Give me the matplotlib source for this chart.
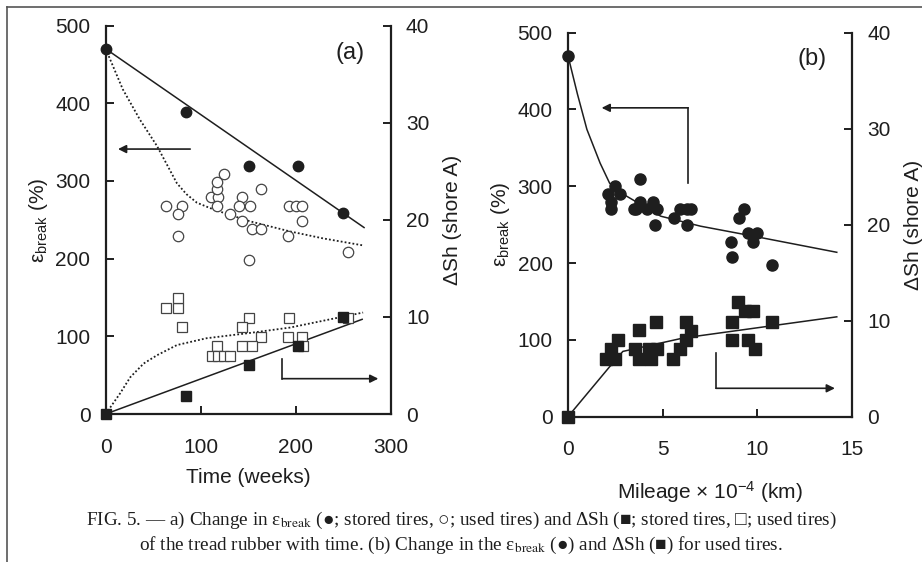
import numpy as np
import matplotlib.pyplot as plt
from matplotlib.lines import Line2D

plt.rcParams['font.family'] = ['Liberation Sans', 'DejaVu Sans']
plt.rcParams['mathtext.fontset'] = 'custom'
plt.rcParams['mathtext.rm'] = 'Liberation Sans'
plt.rcParams['mathtext.it'] = 'Liberation Sans:italic'

INK = '#1e1e1e'

# ---- (a) storage time, weeks ----
stored_t = [0, 85, 151, 202, 250]
stored_eps = [470, 389, 319, 319, 259]
stored_fit_t = [0, 272]
stored_fit_eps = [470, 240]

used_t = [64, 80, 76, 76, 111, 118, 117, 117, 125, 117, 144, 164, 140, 152,
          131, 144, 154, 164, 151, 193, 200, 207, 192, 207, 255]
used_eps = [268, 268, 258, 229, 279, 279, 289, 299, 309, 268, 279, 289, 268, 268,
            258, 248, 238, 238, 198, 268, 268, 268, 229, 248, 208]
used_fit_t = [0, 18, 36, 54, 75, 85, 96, 110, 124, 152, 194, 229, 271]
used_fit_eps = [470, 418, 379, 345, 297, 283, 272, 265, 259, 248, 235, 226, 217]

stored_sh = [0, 1.9, 5.0, 7.0, 10.0]
stored_sh_fit_t = [0, 270]
stored_sh_fit = [0, 9.75]

used_sq_t = [64, 76, 76, 80, 151, 144, 193, 163, 192, 207, 117, 143, 154, 208,
             112, 118, 125, 131, 255]
used_sq_sh = [10.9, 10.9, 11.9, 9.0, 9.9, 9.0, 9.9, 7.9, 7.9, 7.9, 7.0, 7.0, 7.0, 7.0,
              6.0, 6.0, 6.0, 6.0, 9.9]
used_sh_fit_t = [0, 15, 26, 40, 54, 75, 106, 152, 194, 271]
used_sh_fit = [0, 2.1, 3.8, 5.2, 6.05, 7.1, 7.8, 8.35, 8.9, 10.45]

# ---- (b) used tires against mileage (x 10^4 km) ----
mile_eps_m = [0, 3.8, 2.1, 2.5, 2.75, 2.3, 2.3, 3.6, 3.8, 3.5, 4.5, 4.2, 4.7, 4.6,
              5.6, 5.9, 6.3, 6.5, 6.3, 9.3, 9.05, 8.6, 8.65, 9.5, 10.0, 9.75, 10.8]
mile_eps = [470, 309, 290, 300, 290, 280, 270, 270, 280, 270, 280, 270, 270, 249,
            259, 270, 270, 270, 249, 270, 259, 228, 208, 239, 239, 228, 198]
mile_eps_fit_m = [0, 0.5, 1.0, 1.7, 2.2, 3.1, 4.9, 7.0, 9.8, 14.2]
mile_eps_fit = [470, 420, 374, 330, 304, 287, 261, 248, 235, 214]

mile_sh_m = [0, 2.0, 2.5, 2.3, 2.65, 3.75, 3.55, 3.75, 4.4, 4.3, 4.7, 4.65, 5.55,
             5.9, 6.25, 6.25, 6.5, 8.65, 8.65, 9.0, 9.35, 9.75, 9.5, 9.9, 10.8]
mile_sh = [0, 6.0, 6.0, 7.0, 8.0, 9.0, 7.0, 6.0, 6.0, 7.0, 7.0, 9.9, 6.0,
           7.0, 8.0, 9.9, 8.9, 9.9, 8.0, 11.9, 11.0, 11.0, 8.0, 7.0, 9.9]
mile_sh_fit_m = [0, 2.2, 2.9, 6.1, 14.2]
mile_sh_fit = [0, 5.2, 6.8, 8.2, 10.4]

eps_ticks = [0, 100, 200, 300, 400, 500]
sh_ticks = [0, 10, 20, 30, 40]

fig = plt.figure(figsize=(9.22, 5.62), dpi=100)

# thin frame along the top and left edge of the page
fig.add_artist(Line2D([0.008, 1.0], [0.988, 0.988], color='#555555', lw=1.2))
fig.add_artist(Line2D([0.008, 0.008], [0.0, 0.988], color='#555555', lw=1.2))


def setup(ax, ax2, xmax, xticks):
    ax.set_xlim(0, xmax)
    ax.set_ylim(0, 500)
    ax2.set_ylim(0, 40)
    ax.set_xticks(xticks)
    ax.set_yticks(eps_ticks)
    ax2.set_yticks(sh_ticks)
    for a in (ax, ax2):
        a.spines['top'].set_visible(False)
        for s in a.spines.values():
            s.set_linewidth(1.6)
            s.set_color(INK)
    ax.spines['right'].set_visible(False)
    ax2.spines['left'].set_visible(False)
    ax2.spines['bottom'].set_visible(False)
    ax.tick_params(direction='in', length=6, width=1.4, labelsize=15,
                   colors=INK, pad=11)
    ax.tick_params(axis='x', pad=17)
    ax2.tick_params(direction='in', length=6, width=1.4, labelsize=15,
                    colors=INK, pad=11)
    ax.set_ylabel('ε$_{\\mathrm{break}}$ (%)', fontsize=15, color=INK)
    ax2.set_ylabel('ΔSh (shore A)', fontsize=15, color=INK, rotation=90,
                   labelpad=10)


def arrow(ax, start, end):
    ax.annotate('', xy=end, xytext=start,
                arrowprops=dict(arrowstyle='-|>', color=INK, lw=1.2,
                                mutation_scale=12, shrinkA=0, shrinkB=0))


# ---------------- panel (a) ----------------
ax_a = fig.add_axes([0.1146, 0.2633, 0.3091, 0.6913])
ax_a2 = ax_a.twinx()
setup(ax_a, ax_a2, 300, [0, 100, 200, 300])
ax_a.set_xlabel('Time (weeks)', fontsize=15, color=INK, labelpad=8)

ax_a.plot(stored_fit_t, stored_fit_eps, color=INK, lw=1.1, clip_on=False)
ax_a.plot(used_fit_t, used_fit_eps, color=INK, lw=1.3, ls=(0, (1, 1.2)),
          clip_on=False)
ax_a.plot(used_t, used_eps, 'o', ms=7.5, mfc='white', mec='#444444', mew=0.9,
          clip_on=False)
ax_a.plot(stored_t, stored_eps, 'o', ms=7.5, color=INK, clip_on=False, zorder=4)

ax_a2.plot(stored_sh_fit_t, stored_sh_fit, color=INK, lw=1.1, clip_on=False)
ax_a2.plot(used_sh_fit_t, used_sh_fit, color=INK, lw=1.3, ls=(0, (1, 1.2)),
           clip_on=False)
ax_a2.plot(used_sq_t, used_sq_sh, 's', ms=7.5, mfc='white', mec='#444444',
           mew=0.9, clip_on=False)
ax_a2.plot(stored_t, stored_sh, 's', ms=7.5, color=INK, clip_on=False, zorder=4)

arrow(ax_a, (89, 341), (13, 341))
ax_a2.plot([186, 186], [5.7, 3.64], color=INK, lw=1.2)
arrow(ax_a2, (186, 3.64), (287, 3.64))
ax_a.text(257, 465, '(a)', fontsize=17, color=INK, ha='center', va='center')

# ---------------- panel (b) ----------------
ax_b = fig.add_axes([0.616, 0.2585, 0.308, 0.6836])
ax_b2 = ax_b.twinx()
setup(ax_b, ax_b2, 15, [0, 5, 10, 15])
ax_b.set_xlabel('Mileage × 10$^{-4}$ (km)', fontsize=15, color=INK,
                labelpad=14)

ax_b.plot(mile_eps_fit_m, mile_eps_fit, color=INK, lw=1.1, clip_on=False)
ax_b.plot(mile_eps_m, mile_eps, 'o', ms=8, color=INK, clip_on=False, zorder=4)
ax_b2.plot(mile_sh_fit_m, mile_sh_fit, color=INK, lw=1.1, clip_on=False)
ax_b2.plot(mile_sh_m, mile_sh, 's', ms=8, color=INK, clip_on=False, zorder=4)

ax_b.plot([6.35, 6.35], [304, 402], color=INK, lw=1.2)
arrow(ax_b, (6.35, 402), (1.78, 402))
ax_b.plot([7.82, 7.82], [83.4, 37], color=INK, lw=1.2)
arrow(ax_b, (7.82, 37), (14.1, 37))
ax_b.text(12.9, 465, '(b)', fontsize=17, color=INK, ha='center', va='center')

# ---------------- caption ----------------
cap_font = ['Liberation Serif', 'DejaVu Serif']
fig.text(0.5, 0.0747,
         'FIG. 5. — a) Change in ε$_{\\mathrm{break}}$ (●; stored tires, ○; used tires) '
         'and ΔSh (■; stored tires, □; used tires)',
         ha='center', va='center', fontsize=13.8, family=cap_font,
         math_fontfamily='stix', color=INK)
fig.text(0.5, 0.030,
         'of the tread rubber with time. (b) Change in the ε$_{\\mathrm{break}}$ (●) '
         'and ΔSh (■) for used tires.',
         ha='center', va='center', fontsize=13.8, family=cap_font,
         math_fontfamily='stix', color=INK)

fig.savefig('out.png', dpi=100, facecolor='white')
